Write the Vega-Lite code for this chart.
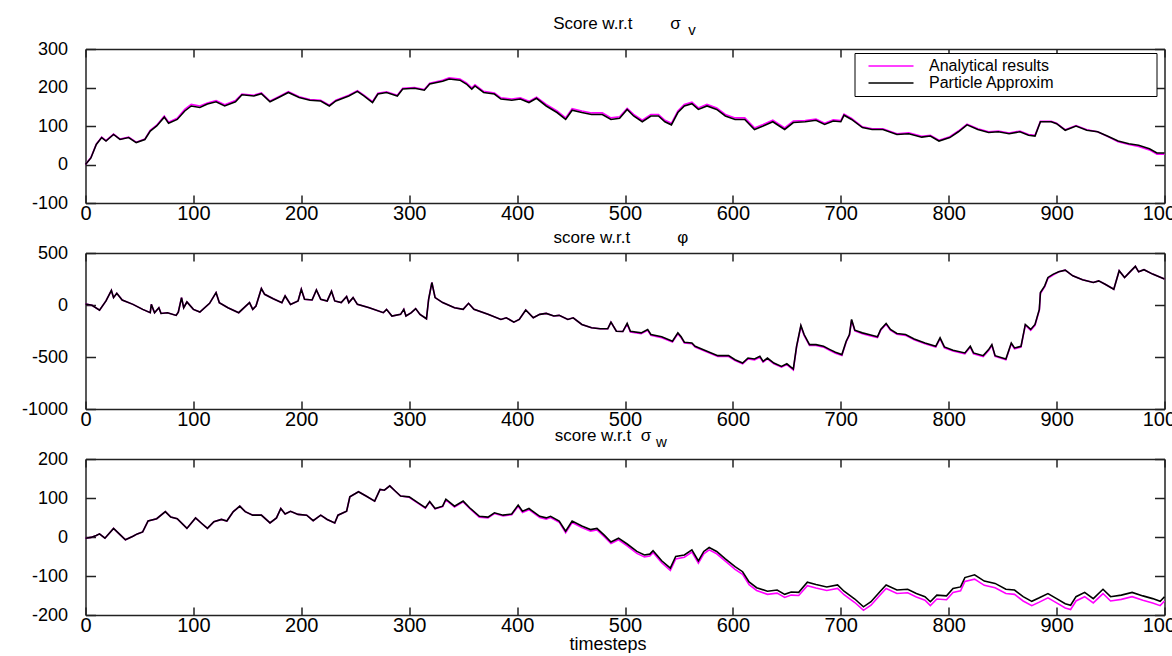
{
  "$schema": "https://vega.github.io/schema/vega-lite/v6.json",
  "autosize": {"type": "pad"},
  "padding": {"left": 20.5, "top": 15, "right": 0, "bottom": 0},
  "bounds": "flush",
  "spacing": 50,
  "config": {
    "view": {"stroke": null},
    "axis": {
      "grid": false,
      "domainColor": "#222222",
      "domainWidth": 1.5,
      "tickColor": "#222222",
      "tickWidth": 1.5,
      "labelColor": "#000000",
      "labelFlush": false,
      "labelOverlap": false,
      "labelBound": false,
      "labelExpr": "'' + datum.value",
      "titleColor": "#000000",
      "titleFontWeight": "normal"
    },
    "title": {
      "font": "Liberation Sans, Arial, sans-serif",
      "fontSize": 17,
      "fontWeight": "normal",
      "color": "#000000",
      "subtitleFont": "Liberation Sans, Arial, sans-serif",
      "subtitleFontSize": 15,
      "subtitleColor": "#000000",
      "subtitlePadding": -10,
      "anchor": "middle"
    }
  },
  "datasets": {
    "sigmaV": [
      {"t": 0, "analytical": 0, "particle": 0},
      {"t": 5, "analytical": 18, "particle": 17},
      {"t": 10, "analytical": 53, "particle": 52},
      {"t": 15, "analytical": 71, "particle": 70},
      {"t": 19, "analytical": 62, "particle": 61},
      {"t": 26, "analytical": 79, "particle": 78},
      {"t": 32, "analytical": 66, "particle": 65},
      {"t": 40, "analytical": 71, "particle": 70},
      {"t": 47, "analytical": 58, "particle": 57},
      {"t": 55, "analytical": 66, "particle": 65},
      {"t": 60, "analytical": 89, "particle": 87},
      {"t": 66, "analytical": 102, "particle": 100},
      {"t": 73, "analytical": 126, "particle": 123},
      {"t": 77, "analytical": 110, "particle": 107},
      {"t": 85, "analytical": 120, "particle": 117},
      {"t": 92, "analytical": 143, "particle": 139},
      {"t": 98, "analytical": 156, "particle": 152},
      {"t": 106, "analytical": 152, "particle": 148},
      {"t": 113, "analytical": 160, "particle": 157},
      {"t": 121, "analytical": 166, "particle": 163},
      {"t": 129, "analytical": 155, "particle": 152},
      {"t": 139, "analytical": 166, "particle": 163},
      {"t": 145, "analytical": 183, "particle": 181},
      {"t": 156, "analytical": 180, "particle": 178},
      {"t": 163, "analytical": 186, "particle": 184},
      {"t": 171, "analytical": 165, "particle": 163},
      {"t": 179, "analytical": 176, "particle": 174},
      {"t": 188, "analytical": 189, "particle": 187},
      {"t": 198, "analytical": 176, "particle": 174},
      {"t": 208, "analytical": 169, "particle": 167},
      {"t": 218, "analytical": 167, "particle": 165},
      {"t": 226, "analytical": 154, "particle": 152},
      {"t": 232, "analytical": 167, "particle": 165},
      {"t": 244, "analytical": 180, "particle": 178},
      {"t": 252, "analytical": 192, "particle": 190},
      {"t": 258, "analytical": 180, "particle": 178},
      {"t": 266, "analytical": 163, "particle": 161},
      {"t": 271, "analytical": 185, "particle": 183},
      {"t": 279, "analytical": 189, "particle": 187},
      {"t": 289, "analytical": 180, "particle": 178},
      {"t": 294, "analytical": 198, "particle": 196},
      {"t": 305, "analytical": 200, "particle": 198},
      {"t": 314, "analytical": 195, "particle": 193},
      {"t": 319, "analytical": 211, "particle": 209},
      {"t": 331, "analytical": 219, "particle": 216},
      {"t": 337, "analytical": 225, "particle": 222},
      {"t": 347, "analytical": 222, "particle": 219},
      {"t": 353, "analytical": 212, "particle": 209},
      {"t": 358, "analytical": 199, "particle": 196},
      {"t": 361, "analytical": 207, "particle": 204},
      {"t": 369, "analytical": 190, "particle": 187},
      {"t": 379, "analytical": 186, "particle": 183},
      {"t": 385, "analytical": 173, "particle": 170},
      {"t": 395, "analytical": 170, "particle": 167},
      {"t": 403, "analytical": 173, "particle": 170},
      {"t": 411, "analytical": 164, "particle": 161},
      {"t": 418, "analytical": 175, "particle": 172},
      {"t": 427, "analytical": 156, "particle": 152},
      {"t": 437, "analytical": 139, "particle": 135},
      {"t": 445, "analytical": 121, "particle": 117},
      {"t": 451, "analytical": 145, "particle": 141},
      {"t": 460, "analytical": 139, "particle": 135},
      {"t": 469, "analytical": 134, "particle": 130},
      {"t": 479, "analytical": 134, "particle": 130},
      {"t": 487, "analytical": 121, "particle": 117},
      {"t": 495, "analytical": 124, "particle": 120},
      {"t": 502, "analytical": 146, "particle": 143},
      {"t": 508, "analytical": 130, "particle": 126},
      {"t": 516, "analytical": 115, "particle": 111},
      {"t": 524, "analytical": 130, "particle": 126},
      {"t": 531, "analytical": 130, "particle": 126},
      {"t": 537, "analytical": 115, "particle": 111},
      {"t": 543, "analytical": 107, "particle": 103},
      {"t": 549, "analytical": 139, "particle": 135},
      {"t": 555, "analytical": 156, "particle": 152},
      {"t": 562, "analytical": 162, "particle": 158},
      {"t": 568, "analytical": 147, "particle": 143},
      {"t": 576, "analytical": 156, "particle": 152},
      {"t": 585, "analytical": 147, "particle": 143},
      {"t": 593, "analytical": 130, "particle": 126},
      {"t": 602, "analytical": 121, "particle": 117},
      {"t": 611, "analytical": 121, "particle": 117},
      {"t": 620, "analytical": 95, "particle": 91},
      {"t": 628, "analytical": 104, "particle": 100},
      {"t": 637, "analytical": 115, "particle": 111},
      {"t": 643, "analytical": 104, "particle": 100},
      {"t": 648, "analytical": 95, "particle": 91},
      {"t": 656, "analytical": 113, "particle": 109},
      {"t": 667, "analytical": 114, "particle": 111},
      {"t": 677, "analytical": 118, "particle": 115},
      {"t": 685, "analytical": 107, "particle": 104},
      {"t": 693, "analytical": 116, "particle": 113},
      {"t": 700, "analytical": 114, "particle": 111},
      {"t": 703, "analytical": 131, "particle": 128},
      {"t": 710, "analytical": 120, "particle": 117},
      {"t": 720, "analytical": 98, "particle": 96},
      {"t": 729, "analytical": 93, "particle": 91},
      {"t": 739, "analytical": 93, "particle": 91},
      {"t": 752, "analytical": 80, "particle": 78},
      {"t": 763, "analytical": 82, "particle": 80},
      {"t": 775, "analytical": 73, "particle": 71},
      {"t": 783, "analytical": 76, "particle": 74},
      {"t": 791, "analytical": 63, "particle": 61},
      {"t": 801, "analytical": 72, "particle": 70},
      {"t": 809, "analytical": 87, "particle": 85},
      {"t": 817, "analytical": 105, "particle": 103},
      {"t": 827, "analytical": 93, "particle": 91},
      {"t": 837, "analytical": 85, "particle": 83},
      {"t": 846, "analytical": 87, "particle": 85},
      {"t": 856, "analytical": 82, "particle": 80},
      {"t": 866, "analytical": 87, "particle": 85},
      {"t": 874, "analytical": 78, "particle": 76},
      {"t": 880, "analytical": 76, "particle": 74},
      {"t": 885, "analytical": 112, "particle": 111},
      {"t": 895, "analytical": 112, "particle": 111},
      {"t": 900, "analytical": 107, "particle": 106},
      {"t": 908, "analytical": 90, "particle": 89},
      {"t": 918, "analytical": 101, "particle": 100},
      {"t": 928, "analytical": 90, "particle": 89},
      {"t": 938, "analytical": 85, "particle": 85},
      {"t": 947, "analytical": 73, "particle": 74},
      {"t": 957, "analytical": 59, "particle": 61},
      {"t": 967, "analytical": 52, "particle": 54},
      {"t": 976, "analytical": 47, "particle": 50},
      {"t": 986, "analytical": 38, "particle": 41},
      {"t": 993, "analytical": 27, "particle": 30},
      {"t": 1000, "analytical": 27, "particle": 30}
    ],
    "phi": [
      {"t": 0, "analytical": 10, "particle": 10},
      {"t": 6, "analytical": -3, "particle": -3},
      {"t": 13, "analytical": -50, "particle": -50},
      {"t": 19, "analytical": 39, "particle": 39},
      {"t": 24, "analytical": 140, "particle": 140},
      {"t": 26, "analytical": 71, "particle": 71},
      {"t": 29, "analytical": 113, "particle": 113},
      {"t": 34, "analytical": 48, "particle": 48},
      {"t": 44, "analytical": 6, "particle": 6},
      {"t": 53, "analytical": -42, "particle": -42},
      {"t": 60, "analytical": -74, "particle": -74},
      {"t": 61, "analytical": 6, "particle": 6},
      {"t": 64, "analytical": -74, "particle": -74},
      {"t": 68, "analytical": -26, "particle": -26},
      {"t": 70, "analytical": -81, "particle": -81},
      {"t": 76, "analytical": -74, "particle": -74},
      {"t": 84, "analytical": -100, "particle": -100},
      {"t": 86, "analytical": -68, "particle": -68},
      {"t": 89, "analytical": 71, "particle": 71},
      {"t": 91, "analytical": -26, "particle": -26},
      {"t": 94, "analytical": 29, "particle": 29},
      {"t": 100, "analytical": -42, "particle": -42},
      {"t": 106, "analytical": -68, "particle": -68},
      {"t": 115, "analytical": 16, "particle": 16},
      {"t": 121, "analytical": 119, "particle": 119},
      {"t": 124, "analytical": 23, "particle": 23},
      {"t": 132, "analytical": -26, "particle": -26},
      {"t": 142, "analytical": -74, "particle": -74},
      {"t": 148, "analytical": -16, "particle": -16},
      {"t": 152, "analytical": 23, "particle": 23},
      {"t": 155, "analytical": -42, "particle": -42},
      {"t": 158, "analytical": -10, "particle": -10},
      {"t": 163, "analytical": 158, "particle": 158},
      {"t": 166, "analytical": 103, "particle": 103},
      {"t": 174, "analytical": 61, "particle": 61},
      {"t": 182, "analytical": 23, "particle": 23},
      {"t": 185, "analytical": 87, "particle": 87},
      {"t": 190, "analytical": 6, "particle": 6},
      {"t": 197, "analytical": 39, "particle": 39},
      {"t": 200, "analytical": 152, "particle": 152},
      {"t": 203, "analytical": 55, "particle": 55},
      {"t": 210, "analytical": 48, "particle": 48},
      {"t": 214, "analytical": 145, "particle": 145},
      {"t": 218, "analytical": 55, "particle": 55},
      {"t": 224, "analytical": 39, "particle": 39},
      {"t": 228, "analytical": 132, "particle": 132},
      {"t": 231, "analytical": 39, "particle": 39},
      {"t": 237, "analytical": 23, "particle": 23},
      {"t": 242, "analytical": 81, "particle": 81},
      {"t": 244, "analytical": 23, "particle": 23},
      {"t": 248, "analytical": 71, "particle": 71},
      {"t": 252, "analytical": 6, "particle": 6},
      {"t": 263, "analytical": -26, "particle": -26},
      {"t": 276, "analytical": -74, "particle": -74},
      {"t": 279, "analytical": -42, "particle": -42},
      {"t": 284, "analytical": -106, "particle": -106},
      {"t": 292, "analytical": -90, "particle": -90},
      {"t": 295, "analytical": -42, "particle": -42},
      {"t": 297, "analytical": -106, "particle": -106},
      {"t": 302, "analytical": -74, "particle": -74},
      {"t": 306, "analytical": -35, "particle": -35},
      {"t": 310, "analytical": -90, "particle": -90},
      {"t": 316, "analytical": -132, "particle": -132},
      {"t": 318, "analytical": 55, "particle": 55},
      {"t": 321, "analytical": 216, "particle": 216},
      {"t": 324, "analytical": 71, "particle": 71},
      {"t": 331, "analytical": 23, "particle": 23},
      {"t": 342, "analytical": -26, "particle": -26},
      {"t": 350, "analytical": -42, "particle": -42},
      {"t": 355, "analytical": 16, "particle": 16},
      {"t": 360, "analytical": -42, "particle": -42},
      {"t": 373, "analytical": -90, "particle": -90},
      {"t": 385, "analytical": -139, "particle": -139},
      {"t": 390, "analytical": -123, "particle": -123},
      {"t": 397, "analytical": -165, "particle": -165},
      {"t": 402, "analytical": -139, "particle": -139},
      {"t": 408, "analytical": -48, "particle": -48},
      {"t": 415, "analytical": -123, "particle": -123},
      {"t": 421, "analytical": -90, "particle": -90},
      {"t": 427, "analytical": -81, "particle": -81},
      {"t": 434, "analytical": -106, "particle": -106},
      {"t": 439, "analytical": -100, "particle": -100},
      {"t": 447, "analytical": -139, "particle": -139},
      {"t": 452, "analytical": -123, "particle": -123},
      {"t": 460, "analytical": -187, "particle": -187},
      {"t": 469, "analytical": -219, "particle": -219},
      {"t": 477, "analytical": -229, "particle": -229},
      {"t": 484, "analytical": -229, "particle": -229},
      {"t": 487, "analytical": -165, "particle": -165},
      {"t": 492, "analytical": -252, "particle": -252},
      {"t": 498, "analytical": -255, "particle": -255},
      {"t": 502, "analytical": -185, "particle": -177},
      {"t": 505, "analytical": -260, "particle": -252},
      {"t": 515, "analytical": -276, "particle": -268},
      {"t": 521, "analytical": -243, "particle": -235},
      {"t": 524, "analytical": -292, "particle": -284},
      {"t": 534, "analytical": -314, "particle": -306},
      {"t": 544, "analytical": -356, "particle": -348},
      {"t": 549, "analytical": -276, "particle": -268},
      {"t": 552, "analytical": -314, "particle": -306},
      {"t": 555, "analytical": -366, "particle": -358},
      {"t": 562, "analytical": -373, "particle": -365},
      {"t": 565, "analytical": -405, "particle": -397},
      {"t": 576, "analytical": -453, "particle": -445},
      {"t": 586, "analytical": -495, "particle": -487},
      {"t": 596, "analytical": -495, "particle": -487},
      {"t": 602, "analytical": -534, "particle": -526},
      {"t": 609, "analytical": -566, "particle": -558},
      {"t": 614, "analytical": -518, "particle": -510},
      {"t": 620, "analytical": -527, "particle": -519},
      {"t": 625, "analytical": -502, "particle": -494},
      {"t": 628, "analytical": -550, "particle": -542},
      {"t": 632, "analytical": -518, "particle": -510},
      {"t": 638, "analytical": -566, "particle": -558},
      {"t": 645, "analytical": -598, "particle": -590},
      {"t": 650, "analytical": -573, "particle": -565},
      {"t": 656, "analytical": -624, "particle": -616},
      {"t": 659, "analytical": -405, "particle": -397},
      {"t": 663, "analytical": -205, "particle": -197},
      {"t": 666, "analytical": -292, "particle": -284},
      {"t": 671, "analytical": -389, "particle": -381},
      {"t": 677, "analytical": -389, "particle": -381},
      {"t": 684, "analytical": -405, "particle": -397},
      {"t": 690, "analytical": -437, "particle": -429},
      {"t": 695, "analytical": -463, "particle": -455},
      {"t": 701, "analytical": -485, "particle": -477},
      {"t": 705, "analytical": -356, "particle": -348},
      {"t": 708, "analytical": -292, "particle": -284},
      {"t": 710, "analytical": -147, "particle": -139},
      {"t": 713, "analytical": -250, "particle": -242},
      {"t": 720, "analytical": -276, "particle": -268},
      {"t": 726, "analytical": -292, "particle": -284},
      {"t": 734, "analytical": -314, "particle": -306},
      {"t": 737, "analytical": -243, "particle": -235},
      {"t": 742, "analytical": -185, "particle": -177},
      {"t": 746, "analytical": -243, "particle": -235},
      {"t": 752, "analytical": -282, "particle": -274},
      {"t": 760, "analytical": -292, "particle": -284},
      {"t": 768, "analytical": -334, "particle": -326},
      {"t": 778, "analytical": -373, "particle": -365},
      {"t": 788, "analytical": -405, "particle": -397},
      {"t": 792, "analytical": -324, "particle": -316},
      {"t": 796, "analytical": -411, "particle": -403},
      {"t": 804, "analytical": -443, "particle": -435},
      {"t": 815, "analytical": -469, "particle": -461},
      {"t": 820, "analytical": -405, "particle": -397},
      {"t": 823, "analytical": -469, "particle": -461},
      {"t": 832, "analytical": -495, "particle": -487},
      {"t": 837, "analytical": -437, "particle": -429},
      {"t": 840, "analytical": -389, "particle": -381},
      {"t": 843, "analytical": -495, "particle": -487},
      {"t": 853, "analytical": -527, "particle": -519},
      {"t": 858, "analytical": -373, "particle": -365},
      {"t": 861, "analytical": -421, "particle": -413},
      {"t": 867, "analytical": -405, "particle": -397},
      {"t": 871, "analytical": -195, "particle": -187},
      {"t": 876, "analytical": -243, "particle": -235},
      {"t": 880, "analytical": -195, "particle": -187},
      {"t": 884, "analytical": -50, "particle": -42},
      {"t": 885, "analytical": 111, "particle": 119},
      {"t": 889, "analytical": 176, "particle": 184},
      {"t": 892, "analytical": 257, "particle": 265},
      {"t": 897, "analytical": 289, "particle": 297},
      {"t": 902, "analytical": 320, "particle": 320},
      {"t": 908, "analytical": 335, "particle": 335},
      {"t": 915, "analytical": 281, "particle": 281},
      {"t": 924, "analytical": 242, "particle": 242},
      {"t": 934, "analytical": 216, "particle": 216},
      {"t": 939, "analytical": 232, "particle": 232},
      {"t": 945, "analytical": 200, "particle": 200},
      {"t": 953, "analytical": 152, "particle": 152},
      {"t": 958, "analytical": 329, "particle": 329},
      {"t": 963, "analytical": 265, "particle": 265},
      {"t": 968, "analytical": 319, "particle": 319},
      {"t": 973, "analytical": 371, "particle": 371},
      {"t": 976, "analytical": 319, "particle": 319},
      {"t": 981, "analytical": 339, "particle": 339},
      {"t": 989, "analytical": 297, "particle": 297},
      {"t": 1000, "analytical": 250, "particle": 250}
    ],
    "sigmaW": [
      {"t": 0, "analytical": -3, "particle": -3},
      {"t": 5, "analytical": -1, "particle": -1},
      {"t": 10, "analytical": 4, "particle": 4},
      {"t": 13, "analytical": 8, "particle": 8},
      {"t": 18, "analytical": -3, "particle": -3},
      {"t": 26, "analytical": 22, "particle": 22},
      {"t": 32, "analytical": 6, "particle": 6},
      {"t": 37, "analytical": -7, "particle": -7},
      {"t": 44, "analytical": 2, "particle": 2},
      {"t": 48, "analytical": 8, "particle": 8},
      {"t": 53, "analytical": 13, "particle": 13},
      {"t": 58, "analytical": 41, "particle": 41},
      {"t": 66, "analytical": 47, "particle": 47},
      {"t": 74, "analytical": 65, "particle": 65},
      {"t": 79, "analytical": 51, "particle": 51},
      {"t": 85, "analytical": 47, "particle": 47},
      {"t": 94, "analytical": 22, "particle": 22},
      {"t": 102, "analytical": 49, "particle": 49},
      {"t": 108, "analytical": 34, "particle": 34},
      {"t": 113, "analytical": 22, "particle": 22},
      {"t": 119, "analytical": 39, "particle": 39},
      {"t": 126, "analytical": 45, "particle": 45},
      {"t": 131, "analytical": 41, "particle": 41},
      {"t": 137, "analytical": 65, "particle": 65},
      {"t": 143, "analytical": 79, "particle": 79},
      {"t": 148, "analytical": 65, "particle": 65},
      {"t": 155, "analytical": 56, "particle": 56},
      {"t": 163, "analytical": 56, "particle": 56},
      {"t": 171, "analytical": 36, "particle": 36},
      {"t": 177, "analytical": 49, "particle": 49},
      {"t": 181, "analytical": 73, "particle": 73},
      {"t": 185, "analytical": 59, "particle": 59},
      {"t": 190, "analytical": 66, "particle": 66},
      {"t": 197, "analytical": 58, "particle": 58},
      {"t": 205, "analytical": 56, "particle": 56},
      {"t": 211, "analytical": 42, "particle": 42},
      {"t": 218, "analytical": 56, "particle": 56},
      {"t": 224, "analytical": 45, "particle": 45},
      {"t": 231, "analytical": 36, "particle": 36},
      {"t": 234, "analytical": 56, "particle": 56},
      {"t": 242, "analytical": 66, "particle": 66},
      {"t": 245, "analytical": 103, "particle": 103},
      {"t": 253, "analytical": 116, "particle": 116},
      {"t": 260, "analytical": 105, "particle": 105},
      {"t": 268, "analytical": 92, "particle": 92},
      {"t": 273, "analytical": 122, "particle": 122},
      {"t": 277, "analytical": 120, "particle": 120},
      {"t": 282, "analytical": 131, "particle": 131},
      {"t": 287, "analytical": 118, "particle": 118},
      {"t": 292, "analytical": 105, "particle": 105},
      {"t": 300, "analytical": 102, "particle": 103},
      {"t": 308, "analytical": 87, "particle": 88},
      {"t": 315, "analytical": 74, "particle": 75},
      {"t": 319, "analytical": 90, "particle": 91},
      {"t": 324, "analytical": 72, "particle": 73},
      {"t": 331, "analytical": 78, "particle": 79},
      {"t": 334, "analytical": 95, "particle": 97},
      {"t": 342, "analytical": 77, "particle": 79},
      {"t": 350, "analytical": 90, "particle": 92},
      {"t": 356, "analytical": 73, "particle": 75},
      {"t": 365, "analytical": 51, "particle": 53},
      {"t": 373, "analytical": 49, "particle": 51},
      {"t": 379, "analytical": 60, "particle": 62},
      {"t": 387, "analytical": 54, "particle": 56},
      {"t": 395, "analytical": 57, "particle": 59},
      {"t": 401, "analytical": 79, "particle": 82},
      {"t": 405, "analytical": 63, "particle": 66},
      {"t": 411, "analytical": 70, "particle": 73},
      {"t": 421, "analytical": 50, "particle": 53},
      {"t": 427, "analytical": 46, "particle": 49},
      {"t": 431, "analytical": 50, "particle": 53},
      {"t": 439, "analytical": 38, "particle": 41},
      {"t": 445, "analytical": 11, "particle": 15},
      {"t": 451, "analytical": 37, "particle": 41},
      {"t": 460, "analytical": 24, "particle": 28},
      {"t": 468, "analytical": 15, "particle": 19},
      {"t": 474, "analytical": 18, "particle": 22},
      {"t": 481, "analytical": 0, "particle": 4},
      {"t": 487, "analytical": -17, "particle": -13},
      {"t": 494, "analytical": -7, "particle": -3},
      {"t": 502, "analytical": -23, "particle": -18},
      {"t": 511, "analytical": -42, "particle": -37},
      {"t": 518, "analytical": -51, "particle": -46},
      {"t": 523, "analytical": -49, "particle": -44},
      {"t": 526, "analytical": -40, "particle": -35},
      {"t": 534, "analytical": -66, "particle": -61},
      {"t": 542, "analytical": -86, "particle": -80},
      {"t": 547, "analytical": -56, "particle": -50},
      {"t": 555, "analytical": -52, "particle": -46},
      {"t": 562, "analytical": -39, "particle": -33},
      {"t": 568, "analytical": -67, "particle": -61},
      {"t": 573, "analytical": -43, "particle": -37},
      {"t": 578, "analytical": -33, "particle": -27},
      {"t": 585, "analytical": -43, "particle": -37},
      {"t": 593, "analytical": -62, "particle": -56},
      {"t": 602, "analytical": -83, "particle": -76},
      {"t": 609, "analytical": -96, "particle": -89},
      {"t": 615, "analytical": -122, "particle": -115},
      {"t": 622, "analytical": -137, "particle": -130},
      {"t": 632, "analytical": -147, "particle": -139},
      {"t": 641, "analytical": -144, "particle": -136},
      {"t": 648, "analytical": -155, "particle": -147},
      {"t": 654, "analytical": -149, "particle": -141},
      {"t": 661, "analytical": -150, "particle": -142},
      {"t": 669, "analytical": -125, "particle": -116},
      {"t": 677, "analytical": -131, "particle": -122},
      {"t": 687, "analytical": -137, "particle": -128},
      {"t": 697, "analytical": -132, "particle": -123},
      {"t": 703, "analytical": -148, "particle": -139},
      {"t": 713, "analytical": -168, "particle": -159},
      {"t": 721, "analytical": -188, "particle": -179},
      {"t": 728, "analytical": -175, "particle": -166},
      {"t": 736, "analytical": -150, "particle": -141},
      {"t": 742, "analytical": -132, "particle": -123},
      {"t": 752, "analytical": -145, "particle": -136},
      {"t": 762, "analytical": -143, "particle": -134},
      {"t": 770, "analytical": -154, "particle": -145},
      {"t": 778, "analytical": -162, "particle": -153},
      {"t": 783, "analytical": -176, "particle": -166},
      {"t": 789, "analytical": -159, "particle": -149},
      {"t": 798, "analytical": -161, "particle": -151},
      {"t": 804, "analytical": -142, "particle": -132},
      {"t": 811, "analytical": -138, "particle": -128},
      {"t": 815, "analytical": -114, "particle": -104},
      {"t": 824, "analytical": -108, "particle": -97},
      {"t": 833, "analytical": -124, "particle": -113},
      {"t": 843, "analytical": -130, "particle": -119},
      {"t": 853, "analytical": -145, "particle": -134},
      {"t": 861, "analytical": -147, "particle": -136},
      {"t": 869, "analytical": -164, "particle": -153},
      {"t": 877, "analytical": -176, "particle": -165},
      {"t": 884, "analytical": -167, "particle": -156},
      {"t": 892, "analytical": -156, "particle": -145},
      {"t": 900, "analytical": -169, "particle": -158},
      {"t": 908, "analytical": -182, "particle": -171},
      {"t": 913, "analytical": -186, "particle": -175},
      {"t": 918, "analytical": -164, "particle": -153},
      {"t": 926, "analytical": -153, "particle": -142},
      {"t": 934, "analytical": -169, "particle": -158},
      {"t": 943, "analytical": -145, "particle": -134},
      {"t": 950, "analytical": -164, "particle": -153},
      {"t": 960, "analytical": -160, "particle": -149},
      {"t": 970, "analytical": -153, "particle": -142},
      {"t": 980, "analytical": -162, "particle": -151},
      {"t": 989, "analytical": -169, "particle": -158},
      {"t": 996, "analytical": -176, "particle": -165},
      {"t": 1000, "analytical": -164, "particle": -153}
    ]
  },
  "resolve": {"scale": {"x": "independent", "y": "independent", "color": "independent"}},
  "vconcat": [
    {
      "width": 1079,
      "height": 154,
      "title": {
        "text": "Score w.r.t\u00a0\u00a0\u00a0\u00a0\u00a0\u00a0\u00a0\u00a0σ",
        "subtitle": "\u200b\u00a0\u00a0\u00a0\u00a0\u00a0\u00a0\u00a0\u00a0\u00a0\u00a0\u00a0\u00a0\u00a0\u00a0\u00a0\u00a0\u00a0\u00a0\u00a0\u00a0\u00a0\u00a0\u00a0\u00a0\u00a0\u00a0\u00a0\u00a0\u00a0\u00a0\u00a0\u00a0\u00a0\u00a0\u00a0\u00a0v",
        "dx": -8,
        "offset": 1
      },
      "data": {"name": "sigmaV"},
      "transform": [{"fold": ["analytical", "particle"], "as": ["series", "score"]}],
      "layer": [
        {
          "mark": {"type": "line", "strokeWidth": 1.6},
          "encoding": {
            "x": {"field": "t", "type": "quantitative", "scale": {"domain": [0, 1000], "nice": false},
              "axis": {"orient": "bottom", "values": [0, 100, 200, 300, 400, 500, 600, 700, 800, 900, 1000], "tickSize": -8, "labelPadding": 8, "title": null,
                "labelFont": "Liberation Sans, Arial, sans-serif", "labelFontSize": 20}},
            "y": {"field": "score", "type": "quantitative", "scale": {"domain": [-100, 300], "nice": false, "zero": false},
              "axis": {"orient": "left", "values": [-100, 0, 100, 200, 300], "tickSize": -10, "labelPadding": 28, "title": null,
                "labelFont": "Liberation Sans, Arial, sans-serif", "labelFontSize": 18}},
            "color": {"field": "series", "type": "nominal",
              "scale": {"domain": ["analytical", "particle"], "range": ["#ff00ff", "#000000"]},
              "legend": {
                "orient": "none", "legendX": 769, "legendY": 4, "title": null,
                "strokeColor": "#000000", "fillColor": "#ffffff", "padding": 5,
                "symbolType": "M-4.5,0H4.5", "symbolSize": 100, "symbolStrokeWidth": 1.5, "symbolOffset": 23.5,
                "labelOffset": 30, "labelLimit": 400, "labelFont": "Liberation Sans, Arial, sans-serif",
                "labelFontSize": 16, "labelColor": "#000000", "rowPadding": 1,
                "labelExpr": "datum.value === 'analytical' ? 'Analytical results\u00a0\u00a0\u00a0\u00a0\u00a0\u00a0\u00a0\u00a0\u00a0\u00a0\u00a0\u00a0\u00a0\u00a0\u00a0\u00a0\u00a0\u00a0\u00a0\u00a0\u00a0\u00a0\u00a0\u200b' : 'Particle Approxim'"
              }}
          }
        },
        {
          "mark": {"type": "line", "opacity": 0},
          "encoding": {
            "x": {"field": "t", "type": "quantitative", "scale": {"domain": [0, 1000], "nice": false},
              "axis": {"orient": "top", "values": [0, 100, 200, 300, 400, 500, 600, 700, 800, 900, 1000], "tickSize": -8, "labels": false, "title": null}},
            "y": {"field": "score", "type": "quantitative", "scale": {"domain": [-100, 300], "nice": false, "zero": false},
              "axis": {"orient": "right", "values": [-100, 0, 100, 200, 300], "tickSize": -10, "labels": false, "title": null}},
            "detail": {"field": "series"}
          }
        }
      ],
      "resolve": {"axis": {"x": "independent", "y": "independent"}}
    },
    {
      "width": 1079,
      "height": 156,
      "title": {
        "text": "score w.r.t\u00a0\u00a0\u00a0\u00a0\u00a0\u00a0\u00a0\u00a0\u00a0\u00a0φ",
        "dx": -4,
        "offset": -3
      },
      "data": {"name": "phi"},
      "transform": [{"fold": ["analytical", "particle"], "as": ["series", "score"]}],
      "layer": [
        {
          "mark": {"type": "line", "strokeWidth": 1.6},
          "encoding": {
            "x": {"field": "t", "type": "quantitative", "scale": {"domain": [0, 1000], "nice": false},
              "axis": {"orient": "bottom", "values": [0, 100, 200, 300, 400, 500, 600, 700, 800, 900, 1000], "tickSize": -8, "labelPadding": 8, "title": null,
                "labelFont": "Liberation Sans, Arial, sans-serif", "labelFontSize": 20}},
            "y": {"field": "score", "type": "quantitative", "scale": {"domain": [-1000, 500], "nice": false, "zero": false},
              "axis": {"orient": "left", "values": [-1000, -500, 0, 500], "tickSize": -10, "labelPadding": 28, "title": null,
                "labelFont": "Liberation Sans, Arial, sans-serif", "labelFontSize": 18}},
            "color": {"field": "series", "type": "nominal",
              "scale": {"domain": ["analytical", "particle"], "range": ["#ff00ff", "#000000"]},
              "legend": null}
          }
        },
        {
          "mark": {"type": "line", "opacity": 0},
          "encoding": {
            "x": {"field": "t", "type": "quantitative", "scale": {"domain": [0, 1000], "nice": false},
              "axis": {"orient": "top", "values": [0, 100, 200, 300, 400, 500, 600, 700, 800, 900, 1000], "tickSize": -8, "labels": false, "title": null}},
            "y": {"field": "score", "type": "quantitative", "scale": {"domain": [-1000, 500], "nice": false, "zero": false},
              "axis": {"orient": "right", "values": [-1000, -500, 0, 500], "tickSize": -10, "labels": false, "title": null}},
            "detail": {"field": "series"}
          }
        }
      ],
      "resolve": {"axis": {"x": "independent", "y": "independent"}}
    },
    {
      "width": 1079,
      "height": 156,
      "title": {
        "text": "score w.r.t\u00a0\u00a0σ",
        "subtitle": "\u200b\u00a0\u00a0\u00a0\u00a0\u00a0\u00a0\u00a0\u00a0\u00a0\u00a0\u00a0\u00a0\u00a0\u00a0\u00a0\u00a0\u00a0\u00a0\u00a0\u00a0\u00a0\u00a0\u00a0\u00a0\u00a0\u00a0\u00a0\u00a0w",
        "dx": -22,
        "offset": -1
      },
      "data": {"name": "sigmaW"},
      "transform": [{"fold": ["analytical", "particle"], "as": ["series", "score"]}],
      "layer": [
        {
          "mark": {"type": "line", "strokeWidth": 1.6},
          "encoding": {
            "x": {"field": "t", "type": "quantitative", "scale": {"domain": [0, 1000], "nice": false},
              "axis": {"orient": "bottom", "values": [0, 100, 200, 300, 400, 500, 600, 700, 800, 900, 1000], "tickSize": -8, "labelPadding": 8,
                "title": "timesteps", "titleFont": "Liberation Sans, Arial, sans-serif", "titleFontSize": 18, "titlePadding": 0, "titleX": 522,
                "labelFont": "Liberation Sans, Arial, sans-serif", "labelFontSize": 20}},
            "y": {"field": "score", "type": "quantitative", "scale": {"domain": [-200, 200], "nice": false, "zero": false},
              "axis": {"orient": "left", "values": [-200, -100, 0, 100, 200], "tickSize": -10, "labelPadding": 28, "title": null,
                "labelFont": "Liberation Sans, Arial, sans-serif", "labelFontSize": 18}},
            "color": {"field": "series", "type": "nominal",
              "scale": {"domain": ["analytical", "particle"], "range": ["#ff00ff", "#000000"]},
              "legend": null}
          }
        },
        {
          "mark": {"type": "line", "opacity": 0},
          "encoding": {
            "x": {"field": "t", "type": "quantitative", "scale": {"domain": [0, 1000], "nice": false},
              "axis": {"orient": "top", "values": [0, 100, 200, 300, 400, 500, 600, 700, 800, 900, 1000], "tickSize": -8, "labels": false, "title": null}},
            "y": {"field": "score", "type": "quantitative", "scale": {"domain": [-200, 200], "nice": false, "zero": false},
              "axis": {"orient": "right", "values": [-200, -100, 0, 100, 200], "tickSize": -10, "labels": false, "title": null}},
            "detail": {"field": "series"}
          }
        }
      ],
      "resolve": {"axis": {"x": "independent", "y": "independent"}}
    }
  ]
}
